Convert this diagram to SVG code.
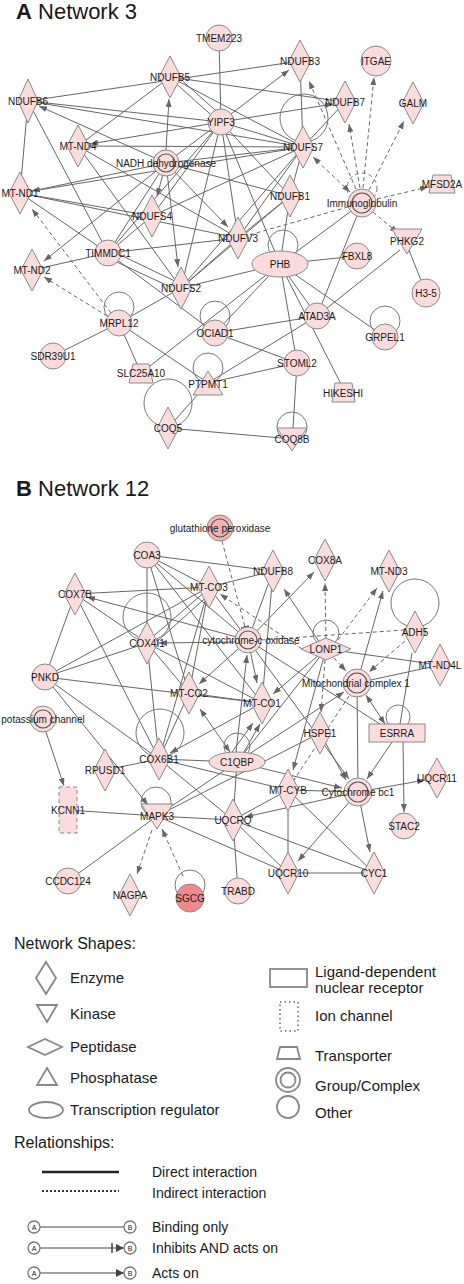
<svg xmlns="http://www.w3.org/2000/svg" width="464" height="1284" viewBox="0 0 464 1284">
<style>
.n{fill:#fadcdc;stroke:#8a8a8a;stroke-width:1}
.in{fill:none;stroke:#555;stroke-width:1.2}
.e line,.e path{stroke:#666;stroke-width:1;fill:none}
.e .d{stroke-dasharray:4 3}
.e circle{fill:none;stroke:#777;stroke-width:1}
.e circle.d{stroke-dasharray:4 3}
.a{marker-end:url(#ah)}
.b{marker-start:url(#ah);marker-end:url(#ah)}
text{font-family:"Liberation Sans",Arial,sans-serif;fill:#1a1a1a}
.l{font-size:10px;text-anchor:middle}
.t{font-size:22px}
.h{font-size:16px}
.g{font-size:15px}
.r{font-size:14px}
.ls{fill:#fff;stroke:#888;stroke-width:1.8}
</style>
<defs>
<marker id="ah" viewBox="0 0 8 6" refX="8" refY="3" markerWidth="8" markerHeight="6" markerUnits="userSpaceOnUse" orient="auto-start-reverse"><path d="M0,0L8,3L0,6z" fill="#666"/></marker>
<marker id="tb" viewBox="0 0 2 8" refX="1" refY="4" markerWidth="2" markerHeight="8" markerUnits="userSpaceOnUse" orient="auto"><rect width="2" height="8" fill="#666"/></marker>
<marker id="lah" viewBox="0 0 8 8" refX="8" refY="4" markerWidth="8" markerHeight="8" markerUnits="userSpaceOnUse" orient="auto"><path d="M0,0L8,4L0,8z" fill="#444"/></marker>
<marker id="ltb" viewBox="0 0 2 10" refX="1" refY="5" markerWidth="2" markerHeight="10" markerUnits="userSpaceOnUse" orient="auto"><rect width="2" height="10" fill="#444"/></marker>
</defs>

<text x="16" y="19" class="t"><tspan font-weight="bold">A</tspan> Network 3</text>
<text x="16" y="496" class="t"><tspan font-weight="bold">B</tspan> Network 12</text>

<g id="connectors" class="e">
<!-- Network 3 -->
<line x1="219" y1="38" x2="221" y2="122"/>
<line x1="28" y1="101" x2="300" y2="61"/>
<line x1="170" y1="77" x2="345" y2="102"/>
<line x1="172" y1="80" x2="219" y2="122"/>
<line x1="177" y1="76" x2="224" y2="118"/>
<line x1="170" y1="77" x2="78" y2="146"/>
<line x1="170" y1="77" x2="303" y2="147"/>
<line x1="28" y1="101" x2="221" y2="122"/>
<line x1="28" y1="101" x2="303" y2="147"/>
<line x1="28" y1="101" x2="20" y2="193"/>
<line x1="28" y1="101" x2="108" y2="253"/>
<line x1="78" y1="146" x2="303" y2="147"/>
<line x1="78" y1="146" x2="238" y2="238"/>
<line x1="78" y1="146" x2="181" y2="288"/>
<line x1="300" y1="61" x2="303" y2="147"/>
<line x1="303" y1="147" x2="345" y2="102"/>
<line x1="362" y1="203" x2="280" y2="264"/>
<line x1="362" y1="203" x2="317" y2="316"/>
<line x1="407" y1="245" x2="426" y2="293"/>
<line x1="400" y1="250" x2="317" y2="316"/>
<line x1="280" y1="264" x2="357" y2="256"/>
<line x1="280" y1="264" x2="385" y2="337"/>
<line x1="280" y1="264" x2="317" y2="316"/>
<line x1="280" y1="264" x2="297" y2="363"/>
<line x1="280" y1="264" x2="343" y2="388"/>
<line x1="280" y1="264" x2="215" y2="333"/>
<line x1="280" y1="264" x2="181" y2="288"/>
<line x1="280" y1="264" x2="141" y2="373"/>
<line x1="290" y1="196" x2="280" y2="264"/>
<line x1="303" y1="147" x2="290" y2="196"/>
<line x1="317" y1="316" x2="215" y2="333"/>
<line x1="317" y1="316" x2="208" y2="383"/>
<line x1="215" y1="333" x2="297" y2="363"/>
<line x1="297" y1="363" x2="208" y2="383"/>
<line x1="297" y1="363" x2="293" y2="428"/>
<line x1="168" y1="428" x2="292" y2="439"/>
<line x1="168" y1="428" x2="208" y2="383"/>
<line x1="119" y1="323" x2="53" y2="356"/>
<line x1="119" y1="323" x2="141" y2="373"/>
<line x1="119" y1="323" x2="208" y2="383"/>
<line x1="119" y1="323" x2="181" y2="288"/>
<line x1="32" y1="270" x2="108" y2="253"/>
<line x1="108" y1="253" x2="238" y2="238"/>
<line x1="20" y1="193" x2="238" y2="238"/>
<line x1="20" y1="193" x2="152" y2="216"/>
<line x1="20" y1="193" x2="108" y2="253"/>
<line x1="20" y1="193" x2="303" y2="147"/>
<line x1="166" y1="163" x2="221" y2="122"/>
<line x1="166" y1="163" x2="303" y2="147"/>
<line x1="166" y1="163" x2="108" y2="253"/>
<line x1="166" y1="163" x2="290" y2="196"/>
<line x1="221" y1="122" x2="238" y2="238"/>
<line x1="221" y1="122" x2="181" y2="288"/>
<line x1="221" y1="122" x2="152" y2="216"/>
<line x1="221" y1="122" x2="280" y2="264"/>
<line x1="221" y1="122" x2="108" y2="253"/>
<line x1="221" y1="122" x2="303" y2="147"/>
<line x1="221" y1="122" x2="290" y2="196"/>
<line x1="303" y1="147" x2="152" y2="216"/>
<line x1="303" y1="147" x2="238" y2="238"/>
<line x1="303" y1="147" x2="181" y2="288"/>
<line x1="152" y1="216" x2="108" y2="253"/>
<line x1="106" y1="257" x2="179" y2="291"/>
<line x1="110" y1="250" x2="183" y2="285"/>
<line x1="108" y1="253" x2="215" y2="333"/>
<line x1="181" y1="288" x2="238" y2="238"/>
<line x1="290" y1="196" x2="181" y2="288"/>
<line x1="290" y1="196" x2="238" y2="238"/>
<line class="a" x1="221" y1="122" x2="90" y2="144"/>
<line class="a" x1="231" y1="114" x2="289" y2="70"/>
<line class="a" x1="234" y1="120" x2="333" y2="104"/>
<line class="a" x1="166" y1="163" x2="32" y2="191"/>
<line class="a" x1="166" y1="150" x2="169" y2="99"/>
<line class="a" x1="166" y1="163" x2="39" y2="106"/>
<line class="a" x1="166" y1="163" x2="157" y2="196"/>
<line class="a" x1="166" y1="163" x2="178" y2="267"/>
<line class="a" x1="166" y1="163" x2="228" y2="227"/>
<line class="a" x1="166" y1="163" x2="44" y2="261"/>
<line class="d a" x1="356" y1="189" x2="309" y2="81"/>
<line class="d a" x1="360" y1="188" x2="349" y2="124"/>
<line class="d a" x1="363" y1="188" x2="374" y2="77"/>
<line class="d a" x1="369" y1="190" x2="404" y2="121"/>
<line class="d b" x1="350" y1="192" x2="313" y2="157"/>
<line class="d a" x1="377" y1="199" x2="428" y2="187"/>
<line class="d a" x1="373" y1="212" x2="398" y2="233"/>
<line class="d" x1="348" y1="207" x2="249" y2="235"/>
<line class="d a" x1="107" y1="316" x2="44" y2="277"/>
<line class="d a" x1="111" y1="313" x2="32" y2="209"/>
<circle cx="304" cy="118" r="24"/>
<circle cx="283" cy="245" r="15"/>
<circle cx="119" cy="307" r="15"/>
<circle cx="215" cy="316" r="15"/>
<circle cx="385" cy="321" r="15"/>
<circle cx="208" cy="368" r="15"/>
<circle cx="168" cy="403" r="24"/>
<circle cx="292" cy="427" r="15"/>
<circle class="d" cx="362" cy="188" r="15"/>

<!-- Network 12 -->
<line x1="147" y1="555" x2="273" y2="571"/>
<line x1="147" y1="555" x2="147" y2="643"/>
<line x1="147" y1="555" x2="209" y2="587"/>
<line x1="147" y1="555" x2="248" y2="640"/>
<line x1="147" y1="555" x2="189" y2="693"/>
<line x1="147" y1="555" x2="262" y2="703"/>
<line x1="75" y1="594" x2="209" y2="587"/>
<line x1="75" y1="594" x2="147" y2="643"/>
<line x1="75" y1="594" x2="159" y2="759"/>
<line x1="75" y1="594" x2="45" y2="677"/>
<line x1="45" y1="677" x2="209" y2="587"/>
<line x1="45" y1="677" x2="147" y2="643"/>
<line x1="45" y1="677" x2="262" y2="703"/>
<line x1="45" y1="677" x2="159" y2="759"/>
<line x1="68" y1="810" x2="157" y2="816"/>
<line x1="157" y1="816" x2="68" y2="881"/>
<line x1="157" y1="816" x2="233" y2="820"/>
<line x1="157" y1="816" x2="237" y2="762"/>
<line x1="157" y1="816" x2="288" y2="873"/>
<line x1="157" y1="816" x2="320" y2="733"/>
<line x1="105" y1="770" x2="159" y2="759"/>
<line x1="159" y1="759" x2="237" y2="762"/>
<line x1="159" y1="759" x2="288" y2="790"/>
<line x1="159" y1="759" x2="233" y2="820"/>
<line x1="237" y1="762" x2="233" y2="820"/>
<line x1="288" y1="790" x2="358" y2="792"/>
<line x1="288" y1="790" x2="233" y2="820"/>
<line x1="288" y1="790" x2="288" y2="873"/>
<line x1="288" y1="790" x2="374" y2="873"/>
<line x1="233" y1="820" x2="288" y2="873"/>
<line x1="233" y1="820" x2="374" y2="873"/>
<line x1="233" y1="820" x2="238" y2="891"/>
<line x1="288" y1="873" x2="374" y2="873"/>
<line x1="412" y1="653" x2="400" y2="724"/>
<line x1="326" y1="649" x2="440" y2="665"/>
<line x1="357" y1="683" x2="440" y2="665"/>
<line x1="357" y1="683" x2="358" y2="792"/>
<line x1="248" y1="640" x2="380" y2="724"/>
<line x1="248" y1="640" x2="209" y2="587"/>
<line x1="207" y1="590" x2="149" y2="640"/>
<line x1="212" y1="592" x2="152" y2="646"/>
<line x1="209" y1="587" x2="189" y2="693"/>
<line x1="209" y1="587" x2="159" y2="759"/>
<line x1="147" y1="643" x2="189" y2="693"/>
<line x1="147" y1="643" x2="159" y2="759"/>
<line x1="147" y1="643" x2="262" y2="703"/>
<line x1="189" y1="693" x2="262" y2="703"/>
<line x1="189" y1="693" x2="159" y2="759"/>
<line x1="273" y1="571" x2="248" y2="640"/>
<line x1="273" y1="571" x2="262" y2="703"/>
<line x1="273" y1="571" x2="209" y2="587"/>
<line x1="326" y1="649" x2="237" y2="762"/>
<line class="a" x1="248" y1="640" x2="87" y2="597"/>
<line class="a" x1="45" y1="677" x2="148" y2="805"/>
<line class="a" x1="46" y1="732" x2="64" y2="786"/>
<line class="a" x1="237" y1="762" x2="342" y2="788"/>
<line class="b" x1="230" y1="752" x2="200" y2="709"/>
<line class="a" x1="232" y1="752" x2="253" y2="723"/>
<line class="a" x1="244" y1="752" x2="260" y2="724"/>
<line class="a" x1="236" y1="752" x2="247" y2="655"/>
<line class="a" x1="237" y1="762" x2="344" y2="692"/>
<line class="a" x1="358" y1="792" x2="245" y2="817"/>
<line class="a" x1="358" y1="792" x2="298" y2="861"/>
<line class="a" x1="358" y1="792" x2="370" y2="852"/>
<line class="a" x1="358" y1="792" x2="425" y2="780"/>
<line class="b" x1="385" y1="724" x2="366" y2="695"/>
<line class="a" x1="392" y1="742" x2="367" y2="779"/>
<line class="a" x1="403" y1="742" x2="404" y2="812"/>
<line class="a" x1="326" y1="649" x2="273" y2="694"/>
<line class="a" x1="320" y1="643" x2="284" y2="589"/>
<line class="a" x1="326" y1="649" x2="293" y2="770"/>
<line class="a" x1="357" y1="683" x2="383" y2="591"/>
<line class="a" x1="248" y1="640" x2="314" y2="572"/>
<line class="a" x1="248" y1="640" x2="199" y2="684"/>
<line class="a" x1="248" y1="640" x2="257" y2="683"/>
<line class="a" x1="235" y1="642" x2="159" y2="643"/>
<line class="a" x1="248" y1="640" x2="349" y2="779"/>
<line class="a" x1="262" y1="703" x2="170" y2="753"/>
<line class="a" x1="320" y1="733" x2="346" y2="780"/>
<line class="d" x1="222" y1="541" x2="245" y2="627" marker-end="url(#tb)"/>
<line class="d a" x1="152" y1="830" x2="137" y2="874"/>
<line class="d a" x1="183" y1="876" x2="162" y2="829"/>
<line class="d a" x1="405" y1="641" x2="369" y2="672"/>
<line class="d a" x1="338" y1="640" x2="377" y2="588"/>
<line class="d a" x1="326" y1="638" x2="325" y2="583"/>
<line class="d a" x1="302" y1="649" x2="220" y2="594"/>
<line class="d" x1="261" y1="640" x2="404" y2="630"/>
<line class="d a" x1="334" y1="658" x2="346" y2="671"/>
<line class="d a" x1="325" y1="660" x2="321" y2="712"/>
<line class="d" x1="349" y1="696" x2="294" y2="780"/>
<circle cx="147" cy="617" r="24"/>
<circle cx="326" cy="633" r="13"/>
<circle cx="415" cy="603" r="24"/>
<circle cx="398" cy="717" r="12"/>
<circle cx="160" cy="733" r="24"/>
<circle cx="237" cy="746" r="13"/>
<circle cx="156" cy="802" r="15"/>
<circle cx="190" cy="885" r="15"/>
</g>

<!-- Network 3 nodes -->
<g id="TMEM223"><circle class="n" cx="219" cy="38" r="13"/><text class="l" x="219" y="41.5">TMEM223</text></g>
<g id="NDUFB5"><polygon class="n" points="170,56 181,77 170,98 159,77"/><text class="l" x="170" y="80.5">NDUFB5</text></g>
<g id="NDUFB6"><polygon class="n" points="28,79 38,101 28,123 18,101"/><text class="l" x="28" y="104.5">NDUFB6</text></g>
<g id="NDUFB3"><polygon class="n" points="300,40 311,61 300,82 289,61"/><text class="l" x="300" y="64.5">NDUFB3</text></g>
<g id="ITGAE"><circle class="n" cx="376" cy="61" r="15"/><text class="l" x="376" y="64.5">ITGAE</text></g>
<g id="NDUFB7"><polygon class="n" points="345,81 356,102 345,123 334,102"/><text class="l" x="345" y="105.5">NDUFB7</text></g>
<g id="GALM"><polygon class="n" points="413,82 424,103 413,124 402,103"/><text class="l" x="413" y="106.5">GALM</text></g>
<g id="YIPF3"><circle class="n" cx="221" cy="122" r="13"/><text class="l" x="221" y="125.5">YIPF3</text></g>
<g id="MT-ND4"><polygon class="n" points="78,125 89,146 78,167 67,146"/><text class="l" x="78" y="149.5">MT-ND4</text></g>
<g id="NDUFS7"><polygon class="n" points="303,126 314,147 303,168 292,147"/><text class="l" x="303" y="150.5">NDUFS7</text></g>
<g id="NADH-dehydrogenase"><circle class="n" cx="166" cy="163" r="13"/><circle class="in" cx="166" cy="163" r="9"/><text class="l" x="166" y="166.5">NADH dehydrogenase</text></g>
<g id="MFSD2A"><polygon class="n" points="429,193 455,193 451,175 433,175"/><text class="l" x="442" y="187.5">MFSD2A</text></g>
<g id="Immunoglobulin"><circle class="n" cx="362" cy="203" r="14"/><circle class="in" cx="362" cy="203" r="10"/><text class="l" x="362" y="206.5">Immunoglobulin</text></g>
<g id="MT-ND1"><polygon class="n" points="20,172 31,193 20,214 9,193"/><text class="l" x="20" y="196.5">MT-ND1</text></g>
<g id="NDUFB1"><polygon class="n" points="290,175 301,196 290,217 279,196"/><text class="l" x="290" y="199.5">NDUFB1</text></g>
<g id="NDUFS4"><polygon class="n" points="152,195 163,216 152,237 141,216"/><text class="l" x="152" y="219.5">NDUFS4</text></g>
<g id="NDUFV3"><polygon class="n" points="238,217 249,238 238,259 227,238"/><text class="l" x="238" y="241.5">NDUFV3</text></g>
<g id="PHKG2"><polygon class="n" points="392,229 422,229 407,254"/><text class="l" x="407" y="245">PHKG2</text></g>
<g id="PHB"><ellipse class="n" cx="280" cy="264" rx="28" ry="13"/><text class="l" x="280" y="267.5">PHB</text></g>
<g id="FBXL8"><circle class="n" cx="357" cy="256" r="13"/><text class="l" x="357" y="259.5">FBXL8</text></g>
<g id="TIMMDC1"><circle class="n" cx="108" cy="253" r="13"/><text class="l" x="108" y="256.5">TIMMDC1</text></g>
<g id="MT-ND2"><polygon class="n" points="32,249 43,270 32,291 21,270"/><text class="l" x="32" y="273.5">MT-ND2</text></g>
<g id="NDUFS2"><polygon class="n" points="181,267 192,288 181,309 170,288"/><text class="l" x="181" y="291.5">NDUFS2</text></g>
<g id="H3-5"><circle class="n" cx="426" cy="293" r="14"/><text class="l" x="426" y="296.5">H3-5</text></g>
<g id="ATAD3A"><circle class="n" cx="317" cy="316" r="13"/><text class="l" x="317" y="319.5">ATAD3A</text></g>
<g id="MRPL12"><circle class="n" cx="119" cy="323" r="13"/><text class="l" x="119" y="326.5">MRPL12</text></g>
<g id="OCIAD1"><circle class="n" cx="215" cy="333" r="13"/><text class="l" x="215" y="336.5">OCIAD1</text></g>
<g id="GRPEL1"><circle class="n" cx="385" cy="337" r="13"/><text class="l" x="385" y="340.5">GRPEL1</text></g>
<g id="SDR39U1"><circle class="n" cx="53" cy="356" r="13"/><text class="l" x="53" y="359.5">SDR39U1</text></g>
<g id="STOML2"><circle class="n" cx="297" cy="363" r="13"/><text class="l" x="297" y="366.5">STOML2</text></g>
<g id="SLC25A10"><polygon class="n" points="129,383 153,383 149,364 133,364"/><text class="l" x="141" y="377">SLC25A10</text></g>
<g id="PTPMT1"><polygon class="n" points="208,371 223,395 193,395"/><text class="l" x="208" y="388">PTPMT1</text></g>
<g id="HIKESHI"><polygon class="n" points="332,402 355,402 352,383 335,383"/><text class="l" x="343" y="396.5">HIKESHI</text></g>
<g id="COQ5"><polygon class="n" points="168,407 179,428 168,449 157,428"/><text class="l" x="168" y="431.5">COQ5</text></g>
<g id="COQ8B"><polygon class="n" points="277,428 307,428 292,451"/><text class="l" x="292" y="442.5">COQ8B</text></g>

<!-- Network 12 nodes -->
<g id="glutathione-peroxidase"><circle class="n" cx="220" cy="528" r="13" style="fill:#f4b3b3"/><circle class="in" cx="220" cy="528" r="9"/><text class="l" x="220" y="531.5">glutathione peroxidase</text></g>
<g id="COA3"><circle class="n" cx="147" cy="555" r="13"/><text class="l" x="147" y="558.5">COA3</text></g>
<g id="COX8A"><polygon class="n" points="325,539 336,560 325,581 314,560"/><text class="l" x="325" y="563.5">COX8A</text></g>
<g id="NDUFB8"><polygon class="n" points="273,550 284,571 273,592 262,571"/><text class="l" x="273" y="574.5">NDUFB8</text></g>
<g id="MT-ND3"><polygon class="n" points="389,550 400,571 389,592 378,571"/><text class="l" x="389" y="574.5">MT-ND3</text></g>
<g id="COX7B"><polygon class="n" points="75,573 86,594 75,615 64,594"/><text class="l" x="75" y="597.5">COX7B</text></g>
<g id="MT-CO3"><polygon class="n" points="209,566 220,587 209,608 198,587"/><text class="l" x="209" y="590.5">MT-CO3</text></g>
<g id="ADH5"><polygon class="n" points="415,611 426,632 415,653 404,632"/><text class="l" x="415" y="635.5">ADH5</text></g>
<g id="LONP1"><polygon class="n" points="301,649 326,638 351,649 326,660"/><text class="l" x="326" y="652.5">LONP1</text></g>
<g id="cytochrome-c-oxidase"><circle class="n" cx="248" cy="640" r="13"/><circle class="in" cx="248" cy="640" r="9"/><text class="l" x="251" y="643.5">cytochrome-c oxidase</text></g>
<g id="COX4I1"><polygon class="n" points="147,622 158,643 147,664 136,643"/><text class="l" x="147" y="646.5">COX4I1</text></g>
<g id="MT-ND4L"><polygon class="n" points="440,644 451,665 440,686 429,665"/><text class="l" x="440" y="668.5">MT-ND4L</text></g>
<g id="PNKD"><circle class="n" cx="45" cy="677" r="13"/><text class="l" x="45" y="680.5">PNKD</text></g>
<g id="Mitochondrial-complex-1"><circle class="n" cx="357" cy="683" r="14"/><circle class="in" cx="357" cy="683" r="10"/><text class="l" x="356" y="686.5">Mitochondrial complex 1</text></g>
<g id="MT-CO2"><polygon class="n" points="189,672 200,693 189,714 178,693"/><text class="l" x="189" y="696.5">MT-CO2</text></g>
<g id="MT-CO1"><polygon class="n" points="262,682 273,703 262,724 251,703"/><text class="l" x="262" y="706.5">MT-CO1</text></g>
<g id="potassium-channel"><circle class="n" cx="43" cy="719" r="13"/><circle class="in" cx="43" cy="719" r="9"/><text class="l" x="43" y="722.5">potassium channel</text></g>
<g id="HSPE1"><polygon class="n" points="320,712 331,733 320,754 309,733"/><text class="l" x="320" y="736.5">HSPE1</text></g>
<g id="ESRRA"><rect class="n" x="369" y="724" width="56" height="18"/><text class="l" x="397" y="736.5">ESRRA</text></g>
<g id="COX6B1"><polygon class="n" points="159,738 170,759 159,780 148,759"/><text class="l" x="159" y="762.5">COX6B1</text></g>
<g id="C1QBP"><ellipse class="n" cx="237" cy="762" rx="28" ry="10"/><text class="l" x="237" y="765.5">C1QBP</text></g>
<g id="RPUSD1"><polygon class="n" points="105,749 116,770 105,791 94,770"/><text class="l" x="105" y="773.5">RPUSD1</text></g>
<g id="UQCR11"><polygon class="n" points="437,758 448,778 437,798 426,778"/><text class="l" x="437" y="781.5">UQCR11</text></g>
<g id="MT-CYB"><polygon class="n" points="288,769 299,790 288,811 277,790"/><text class="l" x="288" y="793.5">MT-CYB</text></g>
<g id="Cytochrome-bc1"><circle class="n" cx="358" cy="792" r="14"/><circle class="in" cx="358" cy="792" r="10"/><text class="l" x="358" y="795.5">Cytochrome bc1</text></g>
<g id="KCNN1"><rect class="n" x="59" y="787" width="18" height="46" stroke-dasharray="4 3"/><text class="l" x="68" y="813.5">KCNN1</text></g>
<g id="MAPK3"><polygon class="n" points="141,804 173,804 157,829"/><text class="l" x="157" y="820">MAPK3</text></g>
<g id="UQCRQ"><polygon class="n" points="233,799 244,820 233,841 222,820"/><text class="l" x="233" y="823.5">UQCRQ</text></g>
<g id="STAC2"><circle class="n" cx="404" cy="826" r="13"/><text class="l" x="404" y="829.5">STAC2</text></g>
<g id="UQCR10"><polygon class="n" points="288,852 299,873 288,894 277,873"/><text class="l" x="288" y="876.5">UQCR10</text></g>
<g id="CYC1"><polygon class="n" points="374,852 385,873 374,894 363,873"/><text class="l" x="374" y="876.5">CYC1</text></g>
<g id="CCDC124"><circle class="n" cx="68" cy="881" r="13"/><text class="l" x="68" y="884.5">CCDC124</text></g>
<g id="NAGPA"><polygon class="n" points="130,874 141,895 130,916 119,895"/><text class="l" x="130" y="898.5">NAGPA</text></g>
<g id="SGCG"><circle class="n" cx="190" cy="898" r="14" style="fill:#f08a8a"/><text class="l" x="190" y="901.5">SGCG</text></g>
<g id="TRABD"><circle class="n" cx="238" cy="891" r="13"/><text class="l" x="238" y="894.5">TRABD</text></g>

<!-- Legend -->
<g id="legend-shapes">
<text x="14" y="949" class="h">Network Shapes:</text>
<polygon class="ls" points="46,962 56,978 46,994 36,978"/><text x="70" y="983" class="g">Enzyme</text>
<polygon class="ls" points="37,1005 57,1005 47,1022"/><text x="70" y="1019" class="g">Kinase</text>
<polygon class="ls" points="28,1047 45,1039 62,1047 45,1055"/><text x="70" y="1052" class="g">Peptidase</text>
<polygon class="ls" points="47,1068 57,1085 37,1085"/><text x="70" y="1083" class="g">Phosphatase</text>
<ellipse class="ls" cx="46" cy="1110" rx="17" ry="8"/><text x="70" y="1115" class="g">Transcription regulator</text>
<rect class="ls" x="270" y="969" width="37" height="18"/><text x="315" y="977" class="g">Ligand-dependent</text><text x="315" y="993" class="g">nuclear receptor</text>
<rect x="280" y="1002" width="18" height="29" fill="#fff" stroke="#666" stroke-width="1.5" stroke-dasharray="1.5 3"/><text x="315" y="1021" class="g">Ion channel</text>
<polygon class="ls" points="277,1059 300,1059 297,1047 280,1047"/><text x="315" y="1061" class="g">Transporter</text>
<circle class="ls" cx="288" cy="1080" r="12"/><circle class="ls" cx="288" cy="1080" r="7.5"/><text x="315" y="1091" class="g">Group/Complex</text>
<circle class="ls" cx="288" cy="1107" r="11"/><text x="315" y="1118" class="g">Other</text>
</g>
<g id="legend-relationships">
<text x="14" y="1148" class="h">Relationships:</text>
<line x1="42" y1="1172" x2="119" y2="1172" stroke="#222" stroke-width="2.5"/><text x="152" y="1177" class="r">Direct interaction</text>
<line x1="42" y1="1191" x2="119" y2="1191" stroke="#333" stroke-width="2" stroke-dasharray="2 2"/><text x="152" y="1198" class="r">Indirect interaction</text>
<line x1="40" y1="1227" x2="124" y2="1227" stroke="#444" stroke-width="1"/>
<line x1="40" y1="1248" x2="124" y2="1248" stroke="#444" stroke-width="1" marker-end="url(#lah)"/>
<line x1="112" y1="1243" x2="112" y2="1253" stroke="#444" stroke-width="1.5"/>
<line x1="40" y1="1273" x2="124" y2="1273" stroke="#444" stroke-width="1" marker-end="url(#lah)"/>
<g fill="#fff" stroke="#777" stroke-width="1.3">
<circle cx="34" cy="1227" r="6"/><circle cx="130" cy="1227" r="6"/>
<circle cx="34" cy="1248" r="6"/><circle cx="130" cy="1248" r="6"/>
<circle cx="34" cy="1273" r="6"/><circle cx="130" cy="1273" r="6"/>
</g>
<g font-size="7" text-anchor="middle" style="fill:#777">
<text x="34" y="1229.5">A</text><text x="130" y="1229.5">B</text>
<text x="34" y="1250.5">A</text><text x="130" y="1250.5">B</text>
<text x="34" y="1275.5">A</text><text x="130" y="1275.5">B</text>
</g>
<text x="152" y="1232" class="r">Binding only</text>
<text x="152" y="1253" class="r">Inhibits AND acts on</text>
<text x="152" y="1278" class="r">Acts on</text>
</g>
</svg>
